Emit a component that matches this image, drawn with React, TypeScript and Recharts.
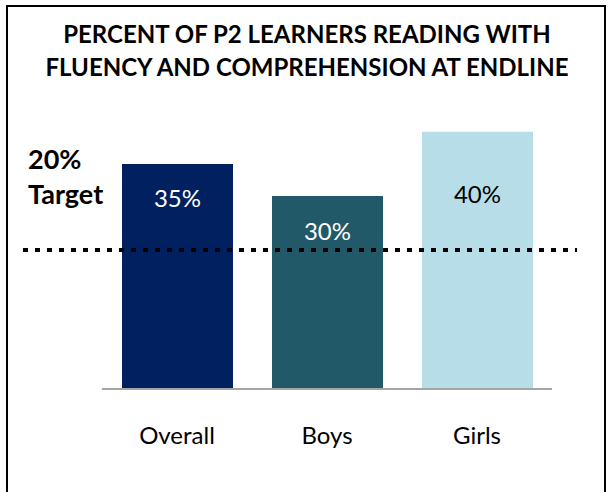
import { BarChart, Bar, XAxis, YAxis, Cell, LabelList, ReferenceLine } from "recharts"

const categories = ["Overall", "Boys", "Girls"]
const percentReading = [35, 30, 40]
const valueLabels = ["35%", "30%", "40%"]
// where the dotted target line sits on the value scale, as drawn
const targetLineValue = 21.6
const targetLabel = ["20%", "Target"]
const titleLines = ["PERCENT OF P2 LEARNERS READING WITH", "FLUENCY AND COMPREHENSION AT ENDLINE"]

const barColors = ["#002060", "#215968", "#B7DEE8"]
const labelColors = ["#ffffff", "#ffffff", "#000000"]
const labelDy = [34, 34, 62]
const FONT = "Lato, 'Open Sans', sans-serif"

const data = categories.map((name, i) => ({ name, value: percentReading[i], label: valueLabels[i] }))

function ValueLabel(props: any) {
  const { x, y, width, index } = props
  return (
    <text
      x={x + width / 2}
      y={y + labelDy[index]}
      textAnchor="middle"
      dominantBaseline="central"
      fontSize={24}
      fontFamily={FONT}
      fill={labelColors[index]}
    >
      {valueLabels[index]}
    </text>
  )
}

function TargetLine(props: any) {
  const { x1, x2, y1 } = props
  return (
    <g>
      <line x1={x1 - 79} x2={x2 + 25} y1={y1} y2={y1} stroke="#000" strokeWidth={4} strokeDasharray="5 7" />
      <text x={28} y={y1 - 92} dominantBaseline="central" fontSize={27} fontWeight={700} fontFamily={FONT} fill="#000">
        {targetLabel[0]}
      </text>
      <text x={28} y={y1 - 57} dominantBaseline="central" fontSize={27} fontWeight={700} fontFamily={FONT} fill="#000">
        {targetLabel[1]}
      </text>
    </g>
  )
}

export default function App() {
  return (
    <div style={{ position: "absolute", left: 0, top: 0, width: 608, height: 492, background: "#fff", fontFamily: FONT }}>
      <div
        style={{
          position: "absolute",
          left: 6,
          top: 5,
          width: 596,
          height: 487,
          borderLeft: "2px solid #000",
          borderTop: "2px solid #000",
          borderRight: "2px solid #000",
        }}
      />
      <div
        style={{
          position: "absolute",
          left: 0,
          top: 17,
          width: 614,
          textAlign: "center",
          fontWeight: 700,
          fontSize: 24,
          lineHeight: "33px",
          color: "#000",
        }}
      >
        {titleLines.map((t) => (
          <div key={t}>{t}</div>
        ))}
      </div>
      <div style={{ position: "absolute", left: 0, top: 0 }}>
        <BarChart width={608} height={492} data={data} margin={{ top: 67.5, right: 56, left: 102, bottom: 43 }}>
          <YAxis hide domain={[0, 50]} />
          <XAxis
            dataKey="name"
            height={60}
            tickLine={false}
            axisLine={{ stroke: "#A6A6A6", strokeWidth: 2 }}
            tickMargin={32}
            tick={{ fill: "#000", fontSize: 24, fontFamily: FONT }}
          />
          <Bar dataKey="value" barSize={111} isAnimationActive={false}>
            {data.map((d, i) => (
              <Cell key={d.name} fill={barColors[i]} />
            ))}
            <LabelList dataKey="label" content={<ValueLabel />} />
          </Bar>
          <ReferenceLine y={targetLineValue} shape={<TargetLine />} />
        </BarChart>
      </div>
    </div>
  )
}
